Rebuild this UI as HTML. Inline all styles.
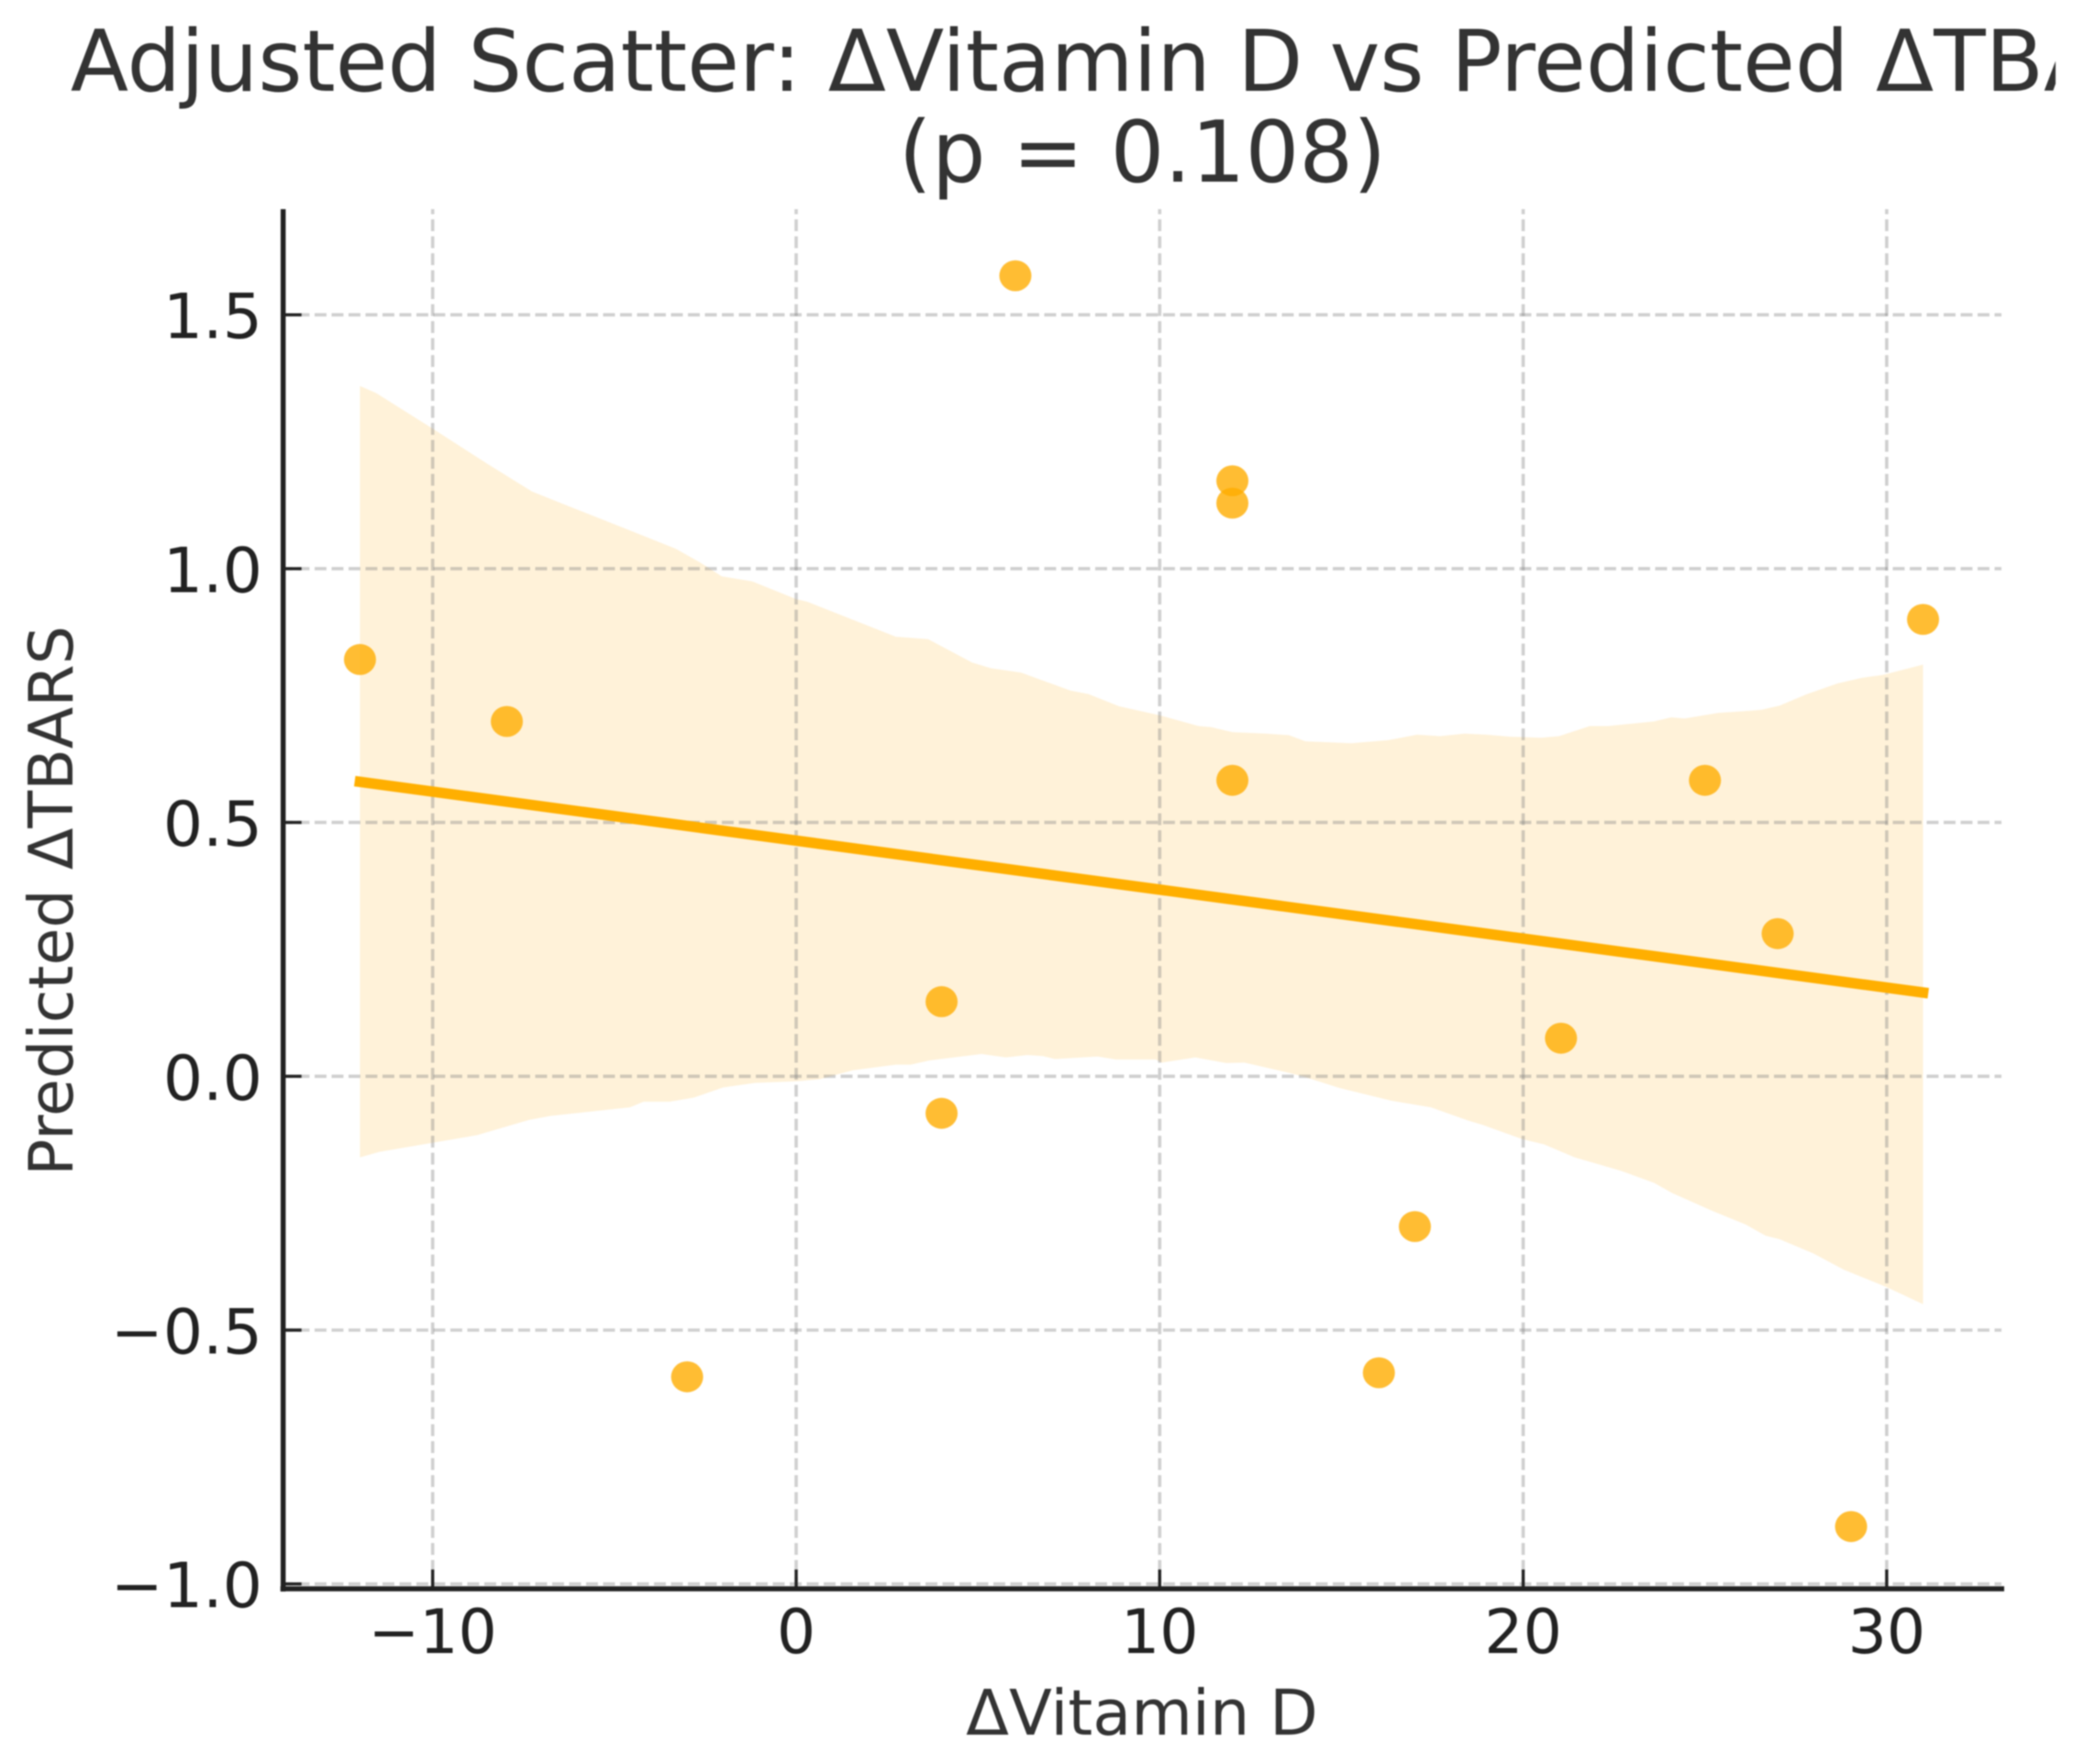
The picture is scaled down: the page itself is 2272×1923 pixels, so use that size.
<!DOCTYPE html>
<html lang="en">
<head>
<meta charset="utf-8">
<title>Adjusted Scatter: ΔVitamin D vs Predicted ΔTBARS</title>
<style>
html,body{margin:0;padding:0;background:#fff;width:2272px;height:1923px;overflow:hidden}
svg{display:block;filter:blur(0.8px)}
text{font-family:"DejaVu Sans","Liberation Sans",sans-serif}
</style>
</head>
<body>
<svg id="chart" xmlns="http://www.w3.org/2000/svg" width="2272" height="1923" viewBox="0 0 2272 1923">
  <defs>
    <clipPath id="title-clip"><rect x="0" y="0" width="2241" height="220"/></clipPath>
  </defs>
  <rect x="0" y="0" width="2272" height="1923" fill="#ffffff"/>
  <g clip-path="url(#title-clip)" fill="#333333" font-size="92.4" text-anchor="middle">
    <text x="1245.5" y="99">Adjusted Scatter: ΔVitamin D vs Predicted ΔTBARS</text>
    <text x="1245.5" y="198">(p = 0.108)</text>
  </g>
  <g id="band-layer"></g>
  <g id="point-layer"></g>
  <g id="grid-layer"></g>
  <g id="line-layer"></g>
  <g id="axis-layer"></g>
  <text x="1245" y="1891" font-size="68.5" fill="#333333" text-anchor="middle">ΔVitamin D</text>
  <text x="0" y="0" transform="translate(79,982) rotate(-90)" font-size="66.6" fill="#333333" text-anchor="middle">Predicted ΔTBARS</text>
</svg>
<script>
const xTicks = [-10, 0, 10, 20, 30];
const xTickLabels = ["−10", "0", "10", "20", "30"];
const yTicks = [-1.0, -0.5, 0.0, 0.5, 1.0, 1.5];
const yTickLabels = ["−1.0", "−0.5", "0.0", "0.5", "1.0", "1.5"];

const pointX = [-12, -7.96, -3, 4, 4, 6.03, 12, 12, 12, 16.03, 17.02, 21.04, 25, 27, 29.02, 31];
const pointY = [0.821, 0.699, -0.592, 0.147, -0.073, 1.577, 1.173, 1.129, 0.583, -0.584, -0.296, 0.075, 0.583, 0.281, -0.887, 0.900];

const lineX = [-12, 31];
const lineY = [0.580, 0.165];

const upperX = [-12, -11.56, -10, -8.53, -7.27, -6.43, -4.74, -3.31, -2.64, -2.05, -1.21, 0, 0.30, 2.74, 3.63, 4.84, 5.35, 6.19, 7.54, 8.04, 8.88, 10, 11.07, 11.41, 12, 12.92, 13.55, 14.01, 15.27, 16.28, 17.08, 17.71, 18.39, 18.98, 19.65, 20.49, 20.99, 21.83, 22.33, 23.59, 24.07, 24.44, 25.37, 26.04, 26.55, 27.05, 27.81, 28.65, 29.32, 29.91, 31];
const upperY = [1.360, 1.346, 1.276, 1.208, 1.152, 1.128, 1.080, 1.039, 1.012, 0.985, 0.975, 0.940, 0.935, 0.866, 0.861, 0.815, 0.804, 0.795, 0.760, 0.753, 0.729, 0.711, 0.690, 0.688, 0.678, 0.675, 0.672, 0.660, 0.656, 0.662, 0.673, 0.670, 0.675, 0.673, 0.669, 0.667, 0.670, 0.690, 0.690, 0.699, 0.707, 0.705, 0.716, 0.719, 0.722, 0.730, 0.753, 0.774, 0.785, 0.791, 0.811];
const lowerX = [-12, -11.47, -10, -8.78, -7.35, -6.76, -4.57, -4.20, -3.48, -2.81, -2.01, -1.13, 0, 0.63, 1.56, 2.74, 3.15, 3.66, 5.10, 5.77, 6.36, 6.78, 7.12, 8.29, 8.80, 9.89, 10.06, 10.98, 11.83, 12.33, 13.42, 13.93, 14.94, 16.37, 17.46, 18.47, 18.89, 19.98, 20.57, 21.42, 22.68, 23.60, 24.10, 25.20, 26.12, 26.67, 27.05, 27.98, 28.82, 29.99, 31];
const lowerY = [-0.160, -0.149, -0.131, -0.116, -0.086, -0.078, -0.061, -0.050, -0.050, -0.042, -0.022, -0.013, -0.010, -0.006, 0.012, 0.023, 0.023, 0.031, 0.044, 0.037, 0.042, 0.040, 0.034, 0.039, 0.033, 0.033, 0.027, 0.037, 0.026, 0.027, 0.009, 0.000, -0.023, -0.048, -0.061, -0.087, -0.096, -0.124, -0.134, -0.160, -0.186, -0.210, -0.230, -0.265, -0.292, -0.314, -0.321, -0.349, -0.381, -0.415, -0.449];

const NS = "http://www.w3.org/2000/svg";
const plotLeft = 308.7, plotRight = 2185, gridRight = 2182, plotTop = 228, plotBottom = 1732;
function xScale(v) { return 868 + 39.63 * v; }
function yScale(v) { return 1173.3 - 553.4 * v; }
function make(tag, attrs, parent) {
  const el = document.createElementNS(NS, tag);
  for (const k in attrs) el.setAttribute(k, attrs[k]);
  parent.appendChild(el);
  return el;
}

const bandLayer = document.getElementById("band-layer");
const pointLayer = document.getElementById("point-layer");
const gridLayer = document.getElementById("grid-layer");
const lineLayer = document.getElementById("line-layer");
const axisLayer = document.getElementById("axis-layer");

// confidence band
let bandPoints = [];
upperX.forEach((v, i) => bandPoints.push(xScale(v).toFixed(1) + "," + yScale(upperY[i]).toFixed(1)));
for (let i = lowerX.length - 1; i >= 0; i--) bandPoints.push(xScale(lowerX[i]).toFixed(1) + "," + yScale(lowerY[i]).toFixed(1));
const band = make("polygon", { points: bandPoints.join(" "), fill: "#ffa800", "fill-opacity": "0.15" }, bandLayer);



// points
pointX.forEach((v, i) => {
  const dot = make("ellipse", { cx: xScale(v), cy: yScale(pointY[i]), rx: 17.5, ry: 16.9, fill: "#ffac00", "fill-opacity": "0.8" }, pointLayer);
  
  
});

// grid
xTicks.forEach((v) => {
  const g = make("line", { x1: xScale(v), x2: xScale(v), y1: plotBottom, y2: plotTop, stroke: "#808080", "stroke-opacity": "0.38", "stroke-width": 3.6, "stroke-dasharray": "12.9 5.6" }, gridLayer);
  
  
});
yTicks.forEach((v) => {
  const g = make("line", { x1: 306, x2: gridRight, y1: yScale(v), y2: yScale(v), stroke: "#808080", "stroke-opacity": "0.38", "stroke-width": 3.6, "stroke-dasharray": "12.9 5.6" }, gridLayer);
  
  
});

// regression line
const reg = make("line", { x1: xScale(lineX[0]), y1: yScale(lineY[0]), x2: xScale(lineX[1]), y2: yScale(lineY[1]), stroke: "#ffaf00", "stroke-width": 11.5, "stroke-linecap": "square" }, lineLayer);



// spines
const leftSpine = make("line", { x1: plotLeft, x2: plotLeft, y1: plotTop, y2: plotBottom + 3, stroke: "#222222", "stroke-width": 5.5 }, axisLayer);


const bottomSpine = make("line", { x1: plotLeft - 3, x2: plotRight, y1: plotBottom, y2: plotBottom, stroke: "#222222", "stroke-width": 5.5 }, axisLayer);



// ticks and labels
xTicks.forEach((v, i) => {
  const t = make("line", { x1: xScale(v), x2: xScale(v), y1: plotBottom, y2: plotBottom - 21, stroke: "#222222", "stroke-width": 3.4 }, axisLayer);
  
  
  const lab = make("text", { x: xScale(v), y: 1802, "font-size": 66.5, fill: "#222222", "text-anchor": "middle" }, axisLayer);
  
  
  lab.textContent = xTickLabels[i];
});
yTicks.forEach((v, i) => {
  const t = make("line", { x1: plotLeft, x2: plotLeft + 20, y1: yScale(v), y2: yScale(v), stroke: "#222222", "stroke-width": 3.4 }, axisLayer);
  
  
  const lab = make("text", { x: 286, y: yScale(v) + 25.5, "font-size": 68, fill: "#222222", "text-anchor": "end" }, axisLayer);
  
  
  lab.textContent = yTickLabels[i];
});
</script>
</body>
</html>
